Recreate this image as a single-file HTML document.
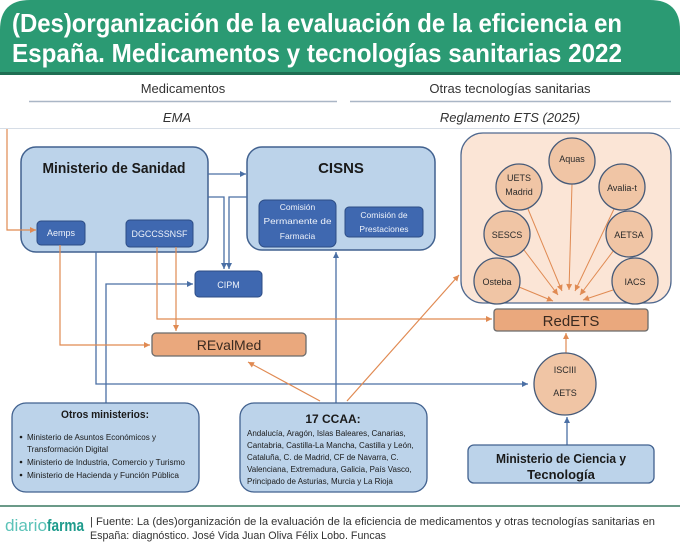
<!DOCTYPE html>
<html><head><meta charset="utf-8">
<style>
html,body{margin:0;padding:0;background:#fff;}
svg{display:block;font-family:"Liberation Sans",sans-serif;}
</style></head>
<body>
<svg width="680" height="544" viewBox="0 0 680 544" xmlns="http://www.w3.org/2000/svg">
<defs>
<marker id="ab" viewBox="0 0 10 10" refX="10" refY="5" markerWidth="7" markerHeight="6" orient="auto" markerUnits="userSpaceOnUse"><path d="M0,0 L10,5 L0,10 z" fill="#4a6fa5"/></marker>
<marker id="ao" viewBox="0 0 10 10" refX="10" refY="5" markerWidth="7" markerHeight="6" orient="auto" markerUnits="userSpaceOnUse"><path d="M0,0 L10,5 L0,10 z" fill="#e08a52"/></marker>
</defs>
<rect width="680" height="544" fill="#fff"/>
<!-- header -->
<path d="M0,75 L0,30 Q0,0 30,0 L650,0 Q680,0 680,30 L680,75 Z" fill="#2b9a73"/>
<rect x="0" y="72" width="680" height="3" fill="#1f6e53"/>
<text x="12" y="32" font-size="26" font-weight="bold" fill="#fff" textLength="610" lengthAdjust="spacingAndGlyphs">(Des)organización de la evaluación de la eficiencia en</text>
<text x="12" y="62" font-size="26" font-weight="bold" fill="#fff" textLength="610" lengthAdjust="spacingAndGlyphs">España. Medicamentos y tecnologías sanitarias 2022</text>

<!-- section headers -->
<text x="183" y="93" font-size="13" fill="#333" text-anchor="middle">Medicamentos</text>
<text x="510" y="93" font-size="13" fill="#333" text-anchor="middle">Otras tecnologías sanitarias</text>
<line x1="29" y1="101.5" x2="337" y2="101.5" stroke="#aab6c6" stroke-width="1.5"/>
<line x1="350" y1="101.5" x2="671" y2="101.5" stroke="#aab6c6" stroke-width="1.5"/>
<text x="177" y="122" font-size="13" font-style="italic" fill="#333" text-anchor="middle">EMA</text>
<text x="510" y="122" font-size="13" font-style="italic" fill="#333" text-anchor="middle">Reglamento ETS (2025)</text>
<line x1="0" y1="128.5" x2="680" y2="128.5" stroke="#d6dde6" stroke-width="1"/>

<!-- Ministerio de Sanidad -->
<rect x="21" y="147" width="187" height="105" rx="15" fill="#bcd3ea" stroke="#41618f" stroke-width="1.5"/>
<text x="114" y="173" font-size="15" font-weight="bold" fill="#1a1a1a" text-anchor="middle" textLength="143" lengthAdjust="spacingAndGlyphs">Ministerio de Sanidad</text>
<rect x="37" y="221" width="48" height="24" rx="4" fill="#3f68b0" stroke="#2c4c85" stroke-width="1"/>
<text x="61" y="236" font-size="9" fill="#eef2fa" text-anchor="middle">Aemps</text>
<rect x="126" y="220" width="67" height="27" rx="4" fill="#3f68b0" stroke="#2c4c85" stroke-width="1"/>
<text x="159.5" y="237" font-size="9" fill="#eef2fa" text-anchor="middle" textLength="56" lengthAdjust="spacingAndGlyphs">DGCCSSNSF</text>

<!-- CISNS -->
<rect x="247" y="147" width="188" height="103" rx="15" fill="#bcd3ea" stroke="#41618f" stroke-width="1.5"/>
<text x="341" y="173" font-size="15" font-weight="bold" fill="#1a1a1a" text-anchor="middle">CISNS</text>
<rect x="259" y="200" width="77" height="47" rx="6" fill="#3f68b0" stroke="#2c4c85" stroke-width="1"/>
<text x="297.5" y="210" font-size="8.5" fill="#eef2fa" text-anchor="middle">Comisión</text>
<text x="297.5" y="224" font-size="8.5" fill="#eef2fa" text-anchor="middle" textLength="68" lengthAdjust="spacingAndGlyphs">Permanente de</text>
<text x="297.5" y="239" font-size="8.5" fill="#eef2fa" text-anchor="middle">Farmacia</text>
<rect x="345" y="207" width="78" height="30" rx="4" fill="#3f68b0" stroke="#2c4c85" stroke-width="1"/>
<text x="384" y="218" font-size="8.5" fill="#eef2fa" text-anchor="middle">Comisión de</text>
<text x="384" y="232" font-size="8.5" fill="#eef2fa" text-anchor="middle">Prestaciones</text>

<!-- CIPM -->
<rect x="195" y="271" width="67" height="26" rx="4" fill="#3f68b0" stroke="#2c4c85" stroke-width="1"/>
<text x="228.5" y="288" font-size="9" fill="#eef2fa" text-anchor="middle">CIPM</text>

<!-- blue connectors -->
<g fill="none" stroke="#4a6fa5" stroke-width="1.3">
<line x1="208" y1="174" x2="246" y2="174" marker-end="url(#ab)"/>
<polyline points="208,197 224,197 224,269" marker-end="url(#ab)"/>
<polyline points="247,197 229,197 229,269" marker-end="url(#ab)"/>
<polyline points="96,252 96,384 528,384" marker-end="url(#ab)"/>
<polyline points="106,403 106,284 193,284" marker-end="url(#ab)"/>
<line x1="336" y1="403" x2="336" y2="252" marker-end="url(#ab)"/>
<line x1="567" y1="445" x2="567" y2="417" marker-end="url(#ab)"/>
</g>

<!-- orange connectors -->
<g fill="none" stroke="#e08a52" stroke-width="1.2">
<polyline points="7,129 7,230 36,230" marker-end="url(#ao)"/>
<polyline points="60,245 60,345 150,345" marker-end="url(#ao)"/>
<polyline points="157,247 157,319 492,319" marker-end="url(#ao)"/>
<line x1="176" y1="247" x2="176" y2="331" marker-end="url(#ao)"/>
<line x1="320" y1="401" x2="248" y2="362" marker-end="url(#ao)"/>
<line x1="347" y1="401" x2="459" y2="275" marker-end="url(#ao)"/>
<line x1="566" y1="353" x2="566" y2="333" marker-end="url(#ao)"/>
</g>

<!-- REvalMed -->
<rect x="152" y="333" width="154" height="23" rx="4" fill="#eaa87d" stroke="#6b6b6b" stroke-width="1.3"/>
<text x="229" y="350" font-size="14" fill="#3a2a20" text-anchor="middle">REvalMed</text>

<!-- RedETS container -->
<rect x="461" y="133" width="210" height="170" rx="22" fill="#fbe5d6" stroke="#50698f" stroke-width="1.3"/>
<g fill="none" stroke="#e08a52" stroke-width="1">
<line x1="572" y1="184" x2="569" y2="290" marker-end="url(#ao)"/>
<line x1="528" y1="209" x2="562" y2="291" marker-end="url(#ao)"/>
<line x1="614" y1="209" x2="575" y2="291" marker-end="url(#ao)"/>
<line x1="524" y1="250" x2="558" y2="295" marker-end="url(#ao)"/>
<line x1="614" y1="250" x2="580" y2="295" marker-end="url(#ao)"/>
<line x1="519" y1="287" x2="553" y2="301" marker-end="url(#ao)"/>
<line x1="613" y1="290" x2="583" y2="300" marker-end="url(#ao)"/>
</g>
<g fill="#f0c5a5" stroke="#465a78" stroke-width="1.3">
<circle cx="572" cy="161" r="23"/>
<circle cx="519" cy="187" r="23"/>
<circle cx="622" cy="187" r="23"/>
<circle cx="507" cy="234" r="23"/>
<circle cx="629" cy="234" r="23"/>
<circle cx="497" cy="281" r="23"/>
<circle cx="635" cy="281" r="23"/>
<circle cx="565" cy="384" r="31"/>
</g>
<g font-size="9" fill="#2a2a2a" text-anchor="middle">
<text x="572" y="162">Aquas</text>
<text x="519" y="181">UETS</text>
<text x="519" y="195">Madrid</text>
<text x="622" y="191">Avalia-t</text>
<text x="507" y="238">SESCS</text>
<text x="629" y="238">AETSA</text>
<text x="497" y="285">Osteba</text>
<text x="635" y="285">IACS</text>
<text x="565" y="373">ISCIII</text>
<text x="565" y="396">AETS</text>
</g>
<rect x="494" y="309" width="154" height="22" rx="3" fill="#eaa87d" stroke="#6b6b6b" stroke-width="1.3"/>
<text x="571" y="326" font-size="15" fill="#3a2a20" text-anchor="middle">RedETS</text>

<!-- Ministerio de Ciencia -->
<rect x="468" y="445" width="186" height="38" rx="6" fill="#bcd3ea" stroke="#41618f" stroke-width="1.3"/>
<text x="561" y="463" font-size="13" font-weight="bold" fill="#1a1a1a" text-anchor="middle" textLength="130" lengthAdjust="spacingAndGlyphs">Ministerio de Ciencia y</text>
<text x="561" y="479" font-size="13" font-weight="bold" fill="#1a1a1a" text-anchor="middle">Tecnología</text>

<!-- Otros ministerios -->
<rect x="12" y="403" width="187" height="89" rx="14" fill="#bcd3ea" stroke="#41618f" stroke-width="1.3"/>
<text x="105" y="418" font-size="11" font-weight="bold" fill="#1a1a1a" text-anchor="middle" textLength="88" lengthAdjust="spacingAndGlyphs">Otros ministerios:</text>
<g fill="#1a1a1a">
<circle cx="21" cy="437" r="1.3"/>
<circle cx="21" cy="462" r="1.3"/>
<circle cx="21" cy="475" r="1.3"/>
</g>
<g font-size="8" fill="#1a1a1a">
<text x="27" y="440" textLength="129" lengthAdjust="spacingAndGlyphs">Ministerio de Asuntos Económicos y</text>
<text x="27" y="452" textLength="81" lengthAdjust="spacingAndGlyphs">Transformación Digital</text>
<text x="27" y="465" textLength="158" lengthAdjust="spacingAndGlyphs">Ministerio de Industria, Comercio y Turismo</text>
<text x="27" y="478" textLength="152" lengthAdjust="spacingAndGlyphs">Ministerio de Hacienda y Función Pública</text>
</g>

<!-- 17 CCAA -->
<rect x="240" y="403" width="187" height="89" rx="14" fill="#bcd3ea" stroke="#41618f" stroke-width="1.3"/>
<text x="333" y="423" font-size="12" font-weight="bold" fill="#1a1a1a" text-anchor="middle">17 CCAA:</text>
<g font-size="8" fill="#1a1a1a">
<text x="247" y="436">Andalucía, Aragón, Islas Baleares, Canarias,</text>
<text x="247" y="448">Cantabria, Castilla-La Mancha, Castilla y León,</text>
<text x="247" y="460">Cataluña, C. de Madrid, CF de Navarra, C.</text>
<text x="247" y="472">Valenciana, Extremadura, Galicia, País Vasco,</text>
<text x="247" y="484">Principado de Asturias, Murcia y La Rioja</text>
</g>

<!-- footer -->
<line x1="0" y1="506" x2="680" y2="506" stroke="#6b9a88" stroke-width="2"/>
<text x="5" y="531" font-size="17" fill="#5cc3b8" textLength="42" lengthAdjust="spacingAndGlyphs">diario</text>
<text x="47" y="531" font-size="17" font-weight="bold" fill="#1e9b8c" textLength="37" lengthAdjust="spacingAndGlyphs">farma</text>
<text x="90" y="525" font-size="11" fill="#333" textLength="565" lengthAdjust="spacingAndGlyphs">| Fuente: La (des)organización de la evaluación de la eficiencia de medicamentos y otras tecnologías sanitarias en</text>
<text x="90" y="539" font-size="11" fill="#333" textLength="296" lengthAdjust="spacingAndGlyphs">España: diagnóstico. José Vida Juan Oliva Félix Lobo. Funcas</text>
</svg>
</body></html>
